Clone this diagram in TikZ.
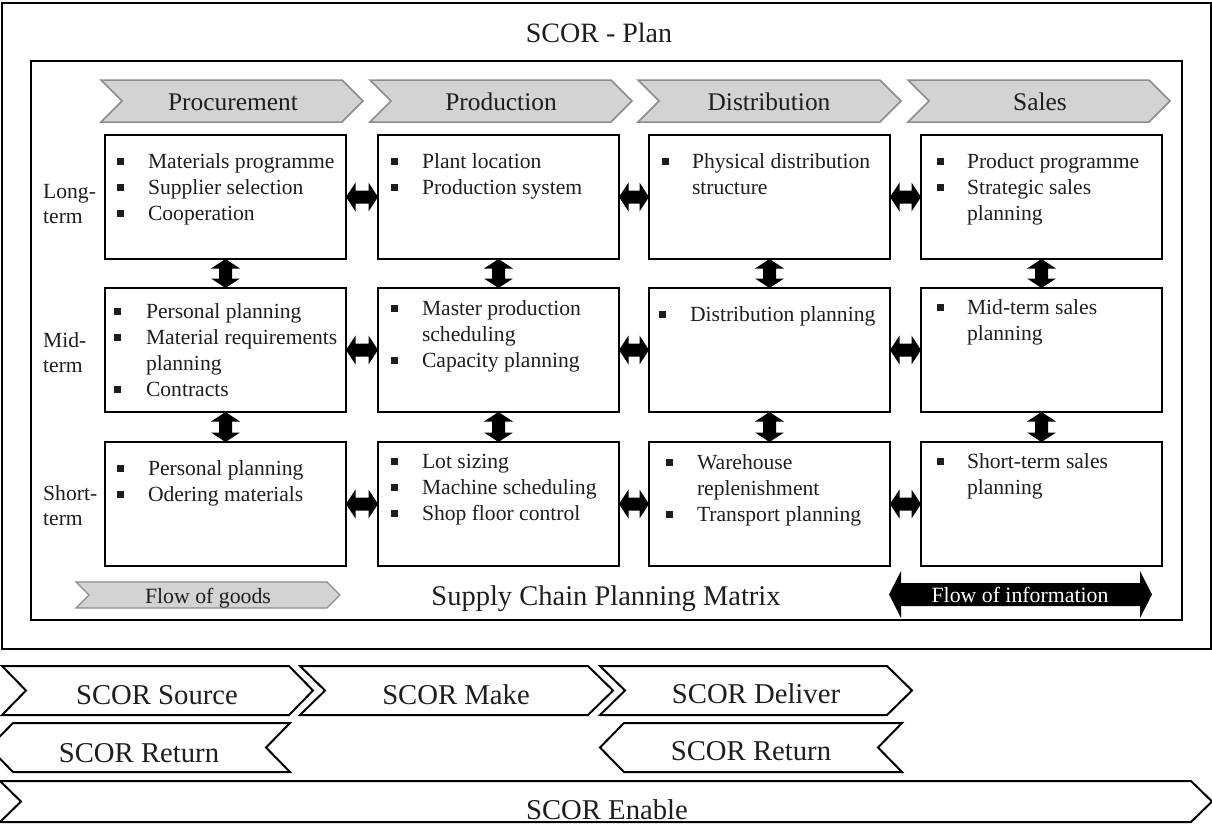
\documentclass[tikz,border=0pt]{standalone}
\usepackage{fontspec}
\setmainfont{Liberation Serif}
\usetikzlibrary{calc}
\definecolor{hdrfill}{HTML}{D3D3D3}
\definecolor{hdrline}{HTML}{8C8C8C}
\definecolor{ink}{HTML}{1E1E1E}
\newlength\bulx
\newlength\txtx
\def\fo{0pt}
\newcommand\fs[2]{\fontsize{#1pt}{#2pt}\selectfont}
\newcommand\bi[1]{\par\noindent\rule{0pt}{\fo}\def\fo{0pt}\hspace*{\bulx}\rule[3.5pt]{7pt}{7pt}\hspace*{\dimexpr\txtx-\bulx-7pt\relax}#1}
\newcommand\bc[1]{\par\noindent\hspace*{\txtx}#1}
\newcommand\cellnode[7]{\node[cellbox] (#1) at (#2,#3) {\parbox[t][124pt][t]{241pt}{\def\fo{#4pt}\setlength\bulx{#5pt}\setlength\txtx{#6pt}\raggedright #7}};}
\newcommand\hconn[2]{\fill[conn] let \p1=(#1.east), \p2=(#2.west) in (\x1,\y1) -- (\x1+9.5pt,\y1+14.5pt) -- (\x1+9.5pt,\y1+6.5pt) -- (\x2-9.5pt,\y1+6.5pt) -- (\x2-9.5pt,\y1+14.5pt) -- (\x2,\y1) -- (\x2-9.5pt,\y1-14.5pt) -- (\x2-9.5pt,\y1-6.5pt) -- (\x1+9.5pt,\y1-6.5pt) -- (\x1+9.5pt,\y1-14.5pt) -- cycle;}
\newcommand\vconn[2]{\fill[conn] let \p1=(#1.south), \p2=(#2.north) in (\x1,\y1) -- (\x1+14.5pt,\y1-9.5pt) -- (\x1+6.5pt,\y1-9.5pt) -- (\x1+6.5pt,\y2+9.5pt) -- (\x1+14.5pt,\y2+9.5pt) -- (\x1,\y2) -- (\x1-14.5pt,\y2+9.5pt) -- (\x1-6.5pt,\y2+9.5pt) -- (\x1-6.5pt,\y1-9.5pt) -- (\x1-14.5pt,\y1-9.5pt) -- cycle;}
\newcommand\chevR[6]{\draw[#6] (#1,#3) -- ({#2-#5},#3) -- (#2,{(#3+#4)/2}) -- ({#2-#5},#4) -- (#1,#4) -- ({#1+#5},{(#3+#4)/2}) -- cycle;}
\newcommand\chevL[6]{\draw[#6] (#1,{(#3+#4)/2}) -- ({#1+#5},#3) -- (#2,#3) -- ({#2-#5},{(#3+#4)/2}) -- (#2,#4) -- ({#1+#5},#4) -- cycle;}
\begin{document}
\begin{tikzpicture}[x=1pt,y=-1pt,
  cellbox/.style={draw, line width=2.5pt, inner sep=0pt, outer sep=0pt, anchor=north west, font=\fs{21.6}{26}, text=ink},
  hdr/.style={anchor=base, inner sep=0pt, font=\fs{25.4}{30}, text=ink},
  big/.style={anchor=base, inner sep=0pt, font=\fs{28.7}{34}, text=ink},
  lbl/.style={anchor=base west, inner sep=0pt, font=\fs{21.6}{25}, text=ink},
  small/.style={anchor=base, inner sep=0pt, font=\fs{21.8}{26}},
  hchev/.style={fill=hdrfill, draw=hdrline, line width=1.5pt, line join=miter},
  scor/.style={draw=black, line width=2pt, fill=white, line join=miter},
  conn/.style={fill=black}
]
\useasboundingbox (0,0) rectangle (1212,825);
% frames
\draw[line width=2pt] (2,3) rectangle (1211,649);
\draw[line width=2.5pt] (31,61) rectangle (1182,620);
\node[big, font=\fs{28}{34}] (title) at (599,42) {SCOR - Plan};
% header chevrons
\chevR{101}{363}{80}{122}{21}{hchev}
\node[hdr] (hproc) at (233,110) {Procurement};
\chevR{370}{632}{80}{122}{21}{hchev}
\node[hdr] (hprod) at (501,110) {Production};
\chevR{638}{901}{80}{122}{21}{hchev}
\node[hdr] (hdist) at (769,110) {Distribution};
\chevR{908}{1170}{80}{122}{21}{hchev}
\node[hdr] (hsales) at (1040,110) {Sales};
% row labels
\node[lbl] (llong) at (43,198) {\parbox[t]{60pt}{Long-\\term}};
\node[lbl] (lmid) at (43,347) {\parbox[t]{60pt}{Mid-\\term}};
\node[lbl] (lshort) at (43,500) {\parbox[t]{60pt}{Short-\\term}};
% cells
\cellnode{a1}{105}{135}{33}{12}{43}{\bi{Materials programme}\bi{Supplier selection}\bi{Cooperation}}
\cellnode{b1}{378}{135}{33}{13}{44}{\bi{Plant location}\bi{Production system}}
\cellnode{c1}{649}{135}{33}{13}{43}{\bi{Physical distribution}\bc{structure}}
\cellnode{d1}{921}{135}{33}{16}{46}{\bi{Product programme}\bi{Strategic sales}\bc{planning}}
\cellnode{a2}{105}{288}{30}{9}{41}{\bi{Personal planning}\bi{Material requirements}\bc{planning}\bi{Contracts}}
\cellnode{b2}{378}{288}{27}{13}{44}{\bi{Master production}\bc{scheduling}\bi{Capacity planning}}
\cellnode{c2}{649}{288}{33}{10}{41}{\bi{Distribution planning}}
\cellnode{d2}{921}{288}{26}{16}{46}{\bi{Mid-term sales}\bc{planning}}
\cellnode{a3}{105}{442}{33}{12}{43}{\bi{Personal planning}\bi{Odering materials}}
\cellnode{b3}{378}{442}{26}{13}{44}{\bi{Lot sizing}\bi{Machine scheduling}\bi{Shop floor control}}
\cellnode{c3}{649}{442}{27}{17}{48}{\bi{Warehouse}\bc{replenishment}\bi{Transport planning}}
\cellnode{d3}{921}{442}{26}{16}{46}{\bi{Short-term sales}\bc{planning}}
% connectors
\foreach \r in {1,2,3}{\hconn{a\r}{b\r}\hconn{b\r}{c\r}\hconn{c\r}{d\r}}
\foreach \c in {a,b,c,d}{\vconn{\c1}{\c2}\vconn{\c2}{\c3}}
% legend row
\chevR{76}{340}{582}{608}{13}{hchev, line width=1.2pt}
\node[small, text=ink] (goods) at (208,603) {Flow of goods};
\node[big, font=\fs{28.5}{34}] (matrix) at (606,605) {Supply Chain Planning Matrix};
\fill (889,594.5) -- (901,571) -- (901,583) -- (1140,583) -- (1140,571) -- (1152,594.5) -- (1140,618) -- (1140,606) -- (901,606) -- (901,618) -- cycle;
\node[small, text=white] (info) at (1020,602) {Flow of information};
% SCOR processes
\chevR{2}{313}{666}{715}{24}{scor}
\node[big] (source) at (157,704) {SCOR Source};
\chevR{300}{613}{666}{715}{25}{scor}
\node[big] (make) at (456,704) {SCOR Make};
\chevR{600}{912}{666}{715}{25}{scor}
\node[big] (deliver) at (756,703) {SCOR Deliver};
\chevL{-11}{290}{723}{772}{24}{scor}
\node[big] (return1) at (139,762) {SCOR Return};
\chevL{600}{902}{723}{772}{24}{scor}
\node[big] (return2) at (751,760) {SCOR Return};
\chevR{0}{1212}{781}{822}{21}{scor}
\node[big] (enable) at (607,819) {SCOR Enable};
\end{tikzpicture}
\end{document}
